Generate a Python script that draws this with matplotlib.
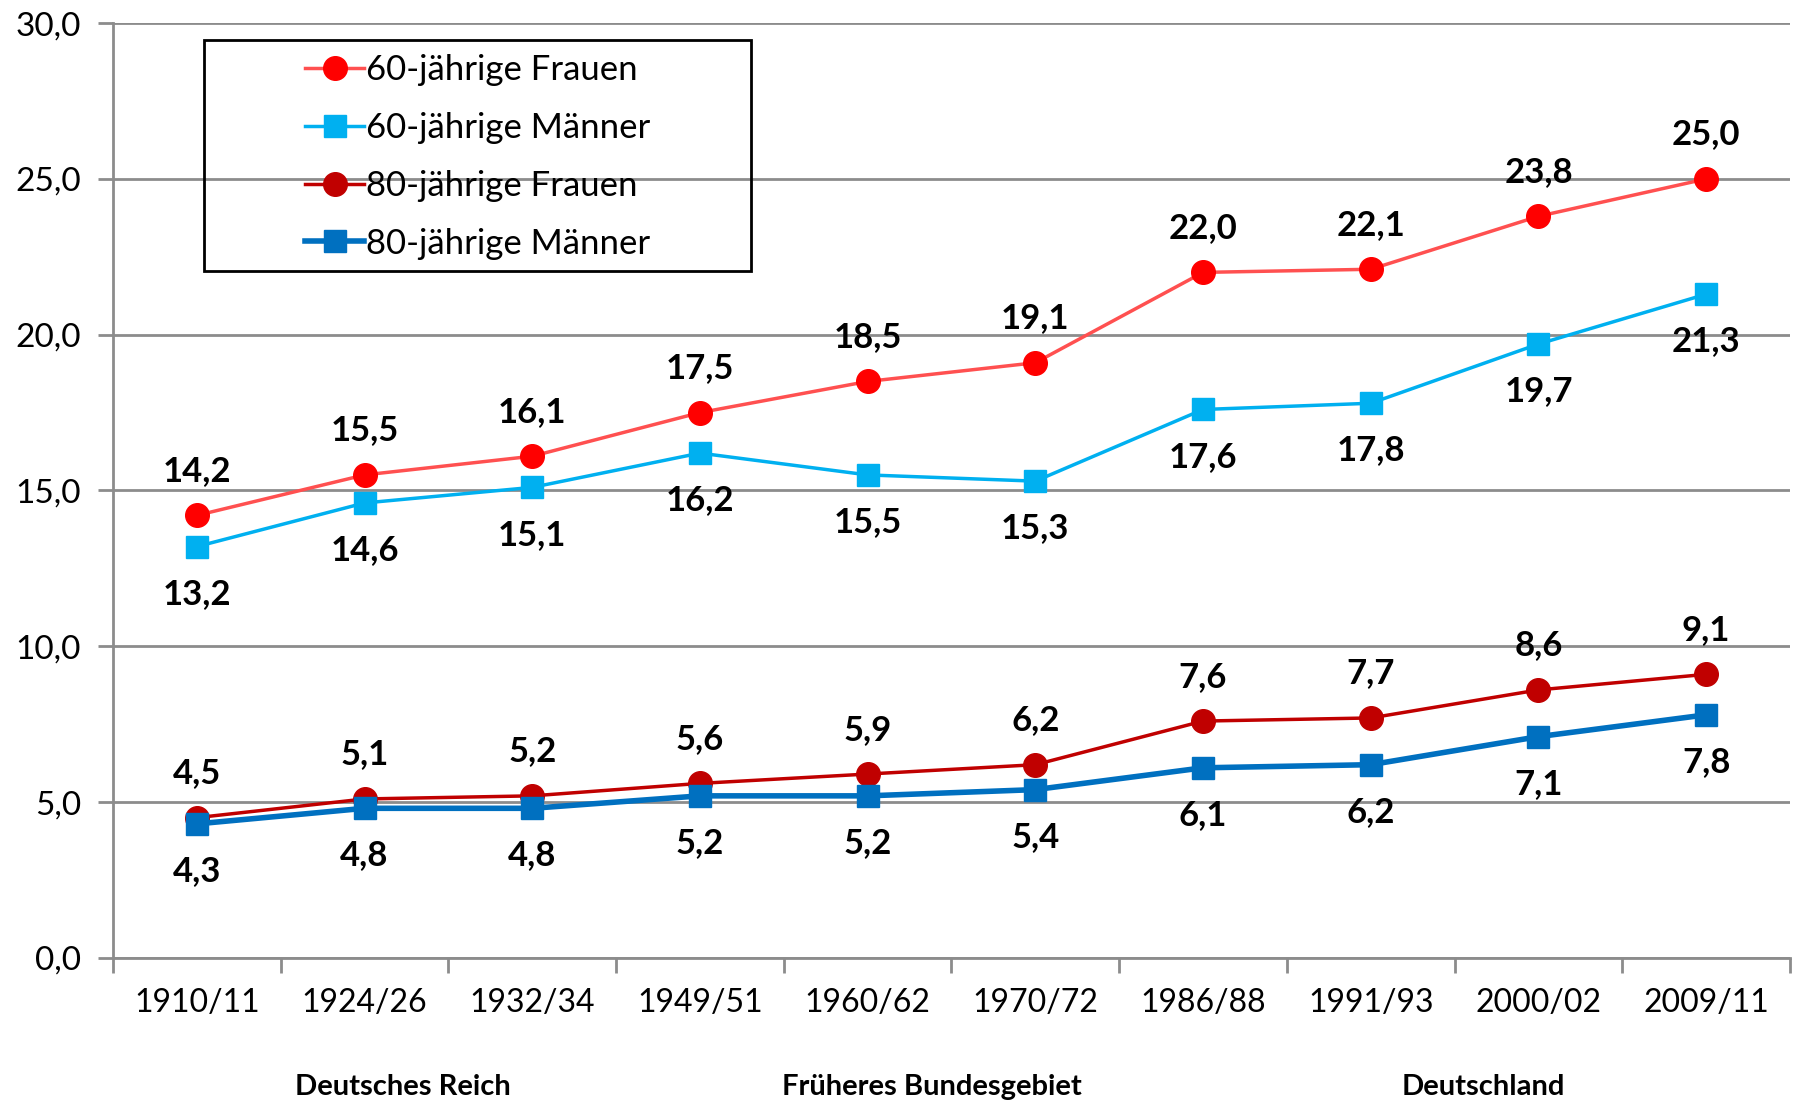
import matplotlib
matplotlib.use("Agg")
import matplotlib.pyplot as plt
from matplotlib.patches import Rectangle
from matplotlib.ticker import FixedLocator, FuncFormatter

plt.rcParams['font.family'] = ['Lato', 'DejaVu Sans']

periods = ['1910/11', '1924/26', '1932/34', '1949/51', '1960/62',
           '1970/72', '1986/88', '1991/93', '2000/02', '2009/11']
frauen_60 = [14.2, 15.5, 16.1, 17.5, 18.5, 19.1, 22.0, 22.1, 23.8, 25.0]
maenner_60 = [13.2, 14.6, 15.1, 16.2, 15.5, 15.3, 17.6, 17.8, 19.7, 21.3]
frauen_80 = [4.5, 5.1, 5.2, 5.6, 5.9, 6.2, 7.6, 7.7, 8.6, 9.1]
maenner_80 = [4.3, 4.8, 4.8, 5.2, 5.2, 5.4, 6.1, 6.2, 7.1, 7.8]
regions = ['Deutsches Reich', 'Früheres Bundesgebiet', 'Deutschland']
region_pos = [1.23, 4.38, 7.67]

series = [
    ('60-jährige Frauen', frauen_60, '#FF5050', '#FF0000', 'o', 2.5, 'above'),
    ('60-jährige Männer', maenner_60, '#00B0F0', '#00B0F0', 's', 2.5, 'below'),
    ('80-jährige Frauen', frauen_80, '#C00000', '#C00000', 'o', 2.5, 'above'),
    ('80-jährige Männer', maenner_80, '#0070C0', '#0070C0', 's', 4.0, 'below'),
]


def fmt(v):
    return "{:.1f}".format(v).replace('.', ',')


W, H = 1799, 1101
fig = plt.figure(figsize=(W / 100, H / 100), dpi=100)
ax = fig.add_axes([0.0628, 0.130, 0.9322, 0.849])

x = list(range(len(periods)))
for name, values, lc, mc, marker, lw, pos in series:
    ms = 17 if marker == 'o' else 16
    ax.plot(x, values, color=lc, lw=lw, marker=marker, ms=ms,
            markerfacecolor=mc, markeredgecolor=mc, label=name, zorder=3)
    dy = 32 if pos == 'above' else -34
    for xi, v in zip(x, values):
        ax.annotate(fmt(v), (xi, v), xytext=(0, dy), textcoords='offset points',
                    ha='center', va='center', fontsize=25, fontweight='bold',
                    color='black')

ax.set_xlim(-0.5, len(periods) - 0.5)
ax.set_ylim(0, 30)
ax.set_yticks([0, 5, 10, 15, 20, 25, 30])
ax.yaxis.set_major_formatter(FuncFormatter(lambda v, p: fmt(v)))
ax.grid(axis='y', color='#8C8C8C', lw=2)
ax.set_axisbelow(True)

ax.set_xticks(x)
ax.set_xticklabels(periods)
ax.xaxis.set_minor_locator(FixedLocator([i - 0.5 for i in range(len(periods) + 1)]))
ax.tick_params(axis='x', which='major', length=0, pad=22, labelsize=23)
ax.tick_params(axis='x', which='minor', length=11, width=2, color='#8C8C8C')
ax.tick_params(axis='y', length=11, width=2, color='#8C8C8C', labelsize=24, pad=12)

for side in ['top', 'right']:
    ax.spines[side].set_visible(False)
for side in ['left', 'bottom']:
    ax.spines[side].set_color('#8C8C8C')
    ax.spines[side].set_linewidth(2)

# group labels below the tick labels, in figure space
for label, xp in zip(regions, region_pos):
    fx = (113 + (xp + 0.5) * (1790 - 113) / len(periods)) / W
    fig.text(fx, 1 - 1087 / H, label, ha='center', va='center',
             fontsize=21, fontweight='bold')

# legend box drawn separately so its size matches the original
ax.add_patch(Rectangle((204 / W, 1 - 271 / H), 547 / W, 231 / H,
                       transform=fig.transFigure, fill=False,
                       edgecolor='black', lw=2, zorder=5, clip_on=False))
leg = ax.legend(loc='upper left', bbox_to_anchor=(305 / W, 1 - 54 / H),
                bbox_transform=fig.transFigure, fontsize=25, frameon=False,
                handlelength=1.7, handletextpad=0.05, borderpad=0,
                labelspacing=0.745, borderaxespad=0, markerscale=1.0)

fig.savefig('out.png', dpi=100)
